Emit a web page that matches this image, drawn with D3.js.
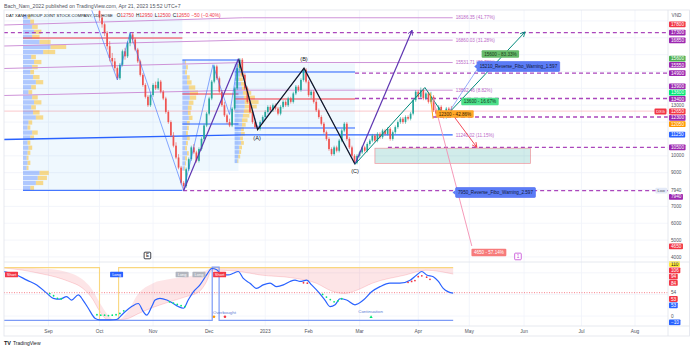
<!DOCTYPE html>
<html><head><meta charset="utf-8">
<script src="https://cdn.jsdelivr.net/npm/d3@7"></script>
<style>body{margin:0;background:#fff}svg{display:block;font-family:"Liberation Sans",Arial,sans-serif}</style>
</head><body><svg id="c" width="690" height="350"></svg>
<script>
// ---------------- DATA ----------------
const candleStart = 20; // bar index of first visible candle
const candles = [ // [open, high, low, close]
[18600,18900,18000,18200],[18200,18400,17600,17800],[17800,17900,17100,17300],[17300,17400,16300,16500],
[16500,16800,15600,15800],[15800,16100,15300,15600],[15600,15800,15000,15200],[15200,15300,14500,14600],
[14600,15500,14500,15400],[15400,16300,15300,16200],[16200,16400,15700,15900],[15900,16800,15800,16700],
[16700,17300,16500,17200],[17200,17300,16700,16900],[16900,17000,16200,16300],[16300,16400,15500,15600],
[15600,15700,14700,14800],[14800,14900,14100,14200],[14200,14300,13400,13500],[13500,13600,12900,13000],
[13000,13700,12900,13600],[13600,14300,13500,14200],[14200,14400,13900,14000],[14000,14600,13900,14400],
[14400,14500,13700,13800],[13800,13900,13300,13400],[13400,13500,12500,12600],[12600,12700,11900,12000],
[12000,12100,11100,11200],[11200,11400,10500,10600],[10600,10800,9800,9900],[9900,10100,9200,9300],
[9300,9400,8300,8400],[8400,8500,7940,8200],[8200,9300,8100,9200],[9200,9900,9100,9800],
[9800,10600,9700,10500],[10500,10700,10100,10200],[10200,10300,9600,9700],[9700,10500,9600,10400],
[10400,11100,10300,11000],[11000,11900,10900,11800],[11800,12600,11700,12500],[12500,13500,12400,13400],
[13400,14500,13300,14400],[14400,15400,14300,15300],[15300,15400,14500,14600],[14600,14700,13700,13800],
[13800,13900,12900,13000],[13000,13200,12300,12400],[12400,12500,11900,12000],[12000,12200,11700,11800],
[11800,12900,11700,12800],[12800,14100,12700,14000],[14000,15300,13900,15200],[15200,15800,15000,15700],
[15700,15800,14700,14800],[14800,14900,13900,14000],[14000,14100,13100,13200],[13200,13300,12500,12600],
[12600,12700,11900,12000],[12000,12100,11600,11700],[11700,11800,11500,11600],[11600,12100,11500,12000],
[12000,12400,11900,12300],[12300,12700,12200,12600],[12600,13000,12500,12900],[12900,13000,12600,12700],
[12700,13100,12600,13000],[13000,13100,12700,12800],[12800,12900,12400,12500],[12500,13000,12400,12900],
[12900,13300,12800,13200],[13200,13300,12900,13000],[13000,13500,12900,13400],[13400,13500,13100,13200],
[13200,13800,13100,13700],[13700,14200,13600,14100],[14100,14200,13800,13900],[13900,14600,13800,14500],
[14500,15200,14400,15100],[15100,15200,14300,14400],[14400,14500,13500,13600],[13600,13900,13400,13800],
[13800,13900,13100,13200],[13200,13300,12600,12700],[12700,12800,12200,12300],[12300,12400,11800,11900],
[11900,12000,11300,11400],[11400,11500,10900,11000],[11000,11100,10300,10400],[10400,10500,10000,10100],
[10100,10600,10000,10500],[10500,10600,10200,10300],[10300,11000,10200,10900],[10900,11600,10800,11500],
[11500,12000,11400,11900],[11900,12000,10900,11000],[11000,11100,10400,10500],[10500,10600,9900,10000],
[10000,10100,9500,9600],[9600,10100,9500,10000],[10000,10300,9900,10200],[10200,10600,10100,10500],
[10500,10600,10200,10300],[10300,10800,10200,10700],[10700,11000,10600,10900],[10900,11300,10800,11200],
[11200,11300,10800,10900],[10900,11400,10800,11300],[11300,11400,11000,11100],[11100,11600,11000,11500],
[11500,11600,11200,11300],[11300,11700,11200,11600],[11600,11700,10900,11000],[11000,11500,10900,11400],
[11400,11800,11300,11700],[11700,12100,11600,12000],[12000,12300,11900,12200],[12200,12300,11900,12000],
[12000,12400,11900,12300],[12300,12400,12100,12200],[12200,12600,12100,12500],[12500,13400,12400,13300],
[13300,13900,13200,13800],[13800,13900,13400,13500],[13500,14050,13400,13900],[13900,14000,13300,13400],
[13400,13800,13300,13700],[13700,13800,13100,13200],[13200,13800,13100,13500],[13500,13600,12600,12700],
[12700,12800,12300,12500],[12500,13000,12400,12900],[12900,13000,12300,12400],[12400,12500,12200,12300],
[12300,12900,12200,12800],[12800,12900,12600,12700],[12750,12950,12500,12650]
];

const monthLabels = ["Sep","Oct","Nov","Dec","2023","Feb","Mar","Apr","May","Jun","Jul","Aug"];
const monthBars   = [0,20,41,63,85,102,122,145,165,186.5,209,230];

// volume profiles
const profStart = [-10, 52.5, 73];
const profEnd   = [52.5, 74.5, 120.2];
const profHi    = [18400, 15700, 15480];
const profLo    = [7940, 9100, 9550];
const profPoc   = [16986, 13665, 13369];
const profVah   = [null, 15682, 14970];
const profVal   = [7950, 11886, 11649];
const prof1Up   = [5,8,10,12,10,18,30,22,9,12,10,8,11,14,9,6,10,12,9,11,14,6,5,10,8,5,6,5,4,5,4,18,16,14,8];
const prof1Down = [3,4,6,8,8,12,17,13,5,8,6,4,7,8,5,4,6,8,5,7,8,4,3,6,4,3,4,3,2,3,2,10,10,8,4];
const prof2Up   = [3,4,3,5,5,7,8,8,7,6,6,7,5,5,4,5,4,3,5,3,3,2];
const prof2Down = [1,2,2,3,5,7,9,7,5,4,3,4,3,2,2,3,2,2,2,2,1,1];
const prof3Up   = [3,5,6,5,7,8,9,10,11,11,10,9,8,8,7,7,6,7,5,5,4,3];
const prof3Down = [2,3,4,4,5,6,9,12,15,13,10,7,6,4,3,4,3,3,3,2,2,1];

// fib levels (sloped on the left, flat from breakBar)
const fibLevels = [18186.35, 16860.03, 15531.71, 13892.46, 11240.02];
const fibLeft   = [17758, 16512, 15178, 13577, 10967];
const fibText   = ["18186.35 (41.77%)","16860.03 (31.28%)","15531.71 (20.78%)","13892.46 (8.82%)","11240.02 (11.15%)"];
const fibBreakBar = 76, fibEndBar = 158.5;

// horizontal dashed levels
const dashPrices = [17300, 14900, 13400, 12300, 10500, 7940];
const dashStart  = [-17.5, 120.2, 120.2, 150.8, 133.1, 52.8];
const lastPrice = 12650;

// drawings  [bar, price]
const zigBlue   = [[15.5,19240],[27,14500],[32,17300],[53,7940],[64.5,15400],[71,12450],[74.5,15750],[82,11650],[100.2,15150],[120.2,9550]];
const zigABC    = [[74.5,15750],[82,11550],[100.2,15200],[120.2,9500]];
const abcText   = ["(A)","(B)","(C)"];
const abcPos    = [[81.8,11056],[100.2,15741],[120.2,9098]];
const purpleA   = [[53,7940],[74.5,15750]];
const purpleB   = [[120.2,9500],[142.6,17450]];
const tealZig   = [[120.2,9500],[147.6,14050],[155.5,12300],[186.9,17350]];
const redArrow  = [[159.4,12250],[168,10500]];
const pinkLine  = [[150.8,13430],[166,4650]];
const orangeLine= [[149.6,13750],[150.8,12200]];
const bluePtr   = [[156,12350],[169.5,15450]];
const zoneBars  = [128, 189];
const zonePrices= [10450, 9550];

// chart labels [bar, price] centres
const noteText  = ["15600 - 83.33%","15210_Reverse_Fibo_Warning_1.597","13600 - 16.67%","12300 - 42.86%","7950_Reverse_Fibo_Warning_2.597","4650 - 57.14%"];
const notePos   = [[177.2,16037],[184.3,15296],[169.2,13221],[159.4,12479],[175.3,7823],[172.7,4264]];
const noteKind  = ["tp","warn","tp2","entry","warn","sl"];
const markText  = ["E","1"];
const markPos   = [[38.8,4087],[184.1,4030]];

// right price axis
const mainTickValues = [13000,10000,9000,7940,7000,6000,5000,4000];
const mainBoxValues  = [17800,17300,16850,15600,15550,14900,13900,13600,13400,12650,12300,12050,11250,10500,7940,4650];
const mainBoxKinds   = ["high","level","level","tp","level","level","level","tp2","level","last","level","entry","fib","level","level","sl"];
const gridPrices = [4000,5000,6000,7000,8000,9000,10000,11000,12000,13000,14000,15000,16000,17000,18000];

// indicator
const oscPoints = [[-17.5,103],[-12.5,95],[-8.5,83],[-4.6,72],[-0.7,53],[1.9,41],[4.5,39],[7.1,45],[9.1,37],[11.7,49],[13.5,37],[15.6,18],[18.2,-5],[20.2,-9],[24.1,-9],[26.7,-8],[29.3,6],[32.6,22],[35.2,29],[37.2,10],[38.5,2],[40.5,22],[41.8,37],[43.7,41],[46.4,37],[48.9,29],[50.9,22],[52.9,18],[54.8,37],[56.8,56],[59.4,72],[62,95],[64,110],[66,107],[67.9,95],[70.5,95],[72.5,99],[74.4,103],[76.4,87],[79,76],[81.6,64],[84.2,72],[86.9,76],[89.5,68],[92.1,72],[94.7,80],[96.7,83],[98.6,80],[101.3,83],[103.2,72],[105.8,56],[108.4,37],[110.4,22],[112.4,26],[114.3,40],[116.9,37],[120.2,26],[123.5,37],[126.7,56],[130,68],[133.9,76],[137.8,76],[141.8,83],[144.4,95],[146.4,103],[148.3,95],[150.9,91],[152.9,80],[154.8,64],[156.8,56],[158.7,53]];
const bandPoints = [[-17.5,111,111],[-10,111,106],[-3,110,98],[3,107,90],[8,100,80],[13,86,66],[17,62,42],[20,32,12],[23,5,-8],[25.5,-8,-9],[27,-9,-9],[31,10,-6],[35,50,5],[41,76,20],[47,85,32],[54,91,45],[59,98,56],[62,106,80],[64,111,106],[67,111,106],[75,111,103],[83,111,95],[96,111,88],[105,111,76],[111,111,58],[116,111,52],[121,111,60],[127,111,76],[140,111,95],[148,111,106],[158.7,111,97]];
const yellowStep = [[-17.5,112],[20,112],[20,-10],[27.5,-10],[27.5,112],[158.7,112]];
const blueStep   = [[-17.5,-10],[64.2,-10],[64.2,113],[66.9,113],[66.9,-10],[158.7,-10]];
const greenDots = [[0.5,52],[2,47],[3.5,41],[5,40],[19,3],[20.5,2],[22,2],[23.5,1],[25,2],[26.5,3],[28,6],[29.5,12],[47.5,33],[49,30],[50.5,27],[52,24],[53.5,22],[107.5,50],[109,44],[110.5,38],[112,33],[113.5,35],[115,40]];
const redDots   = [[100,77],[101.5,76],[141,78],[142.4,80],[143.7,82],[145,91],[146.4,93],[148.3,90],[149.6,85]];
const sigText = ["Short","Long","Long","Long","Short"];
const sigPos  = [[-14.5,96],[26.7,96],[52.4,96],[59,96],[67.1,96]];
const sigKind = ["short","long","ghost","ghost","short"];
const overText = ["Overbought","Continuation"];
const overPos  = [[64.5,9.4],[126.3,10]];
const obDots   = [[64.9,-1.5],[69.2,-1.5]];
const contTri  = [[126.5,-1.5]];
const indTickValues = [54, 0];
const indBoxValues  = [110,106,94,84,53,53,-10];
const indBoxKinds   = ["yellow","red","red","red","red","blue","blue"];
const obLevel = 54;

// header texts
const headerText = "Bach_Nam_2022 published on TradingView.com, Apr 21, 2023 15:52 UTC+7";
const symbolName = "DAT XANH GROUP JOINT STOCK COMPANY, 1D, HOSE";
const ohlcKeys = ["O","H","L","C"];
const ohlcVals = ["12750","12950","12500","12650"];
const changeText = "−50 (−0.40%)";

// ---------------- STYLE ----------------
const C = {up:"#26a69a", down:"#ef5350", purple:"#9c27b0", dash:"#ab47bc", fib:"#ce93d8", fibText:"#ba68c8",
  blue:"#2962ff", red:"#f23645", grid:"#f0f3fa", border:"#e0e3eb", text:"#50535e"};
const kindFill = {high:"#f23645",level:"#9c27b0",tp:"#4caf50",tp2:"#00e676",last:"#f23645",entry:"#ff9800",fib:"#2962ff",sl:"#f23645",
  yellow:"#ffeb3b",red:"#f23645",blue:"#2962ff",warn:"#5b7cf6"};
const noteFill = {tp:"#66bb6a",tp2:"#4ee08a",entry:"#ffa726",warn:"#5b7cf6",sl:"#f77b7b"};
const noteInk  = {tp:"#1b3a1b",tp2:"#123a22",entry:"#3a2300",warn:"#131a3a",sl:"#ffffff"};

// ---------------- SCALES ----------------
const svg = d3.select("#c");
const L=4, R=668, mainTop=10, mainBot=262, indTop=262, indBot=326;
const x  = d3.scaleLinear().domain([-17.45, 242.94]).range([L, R]);
const y  = d3.scaleLinear().domain([3701, 18707]).range([262, 9]);
const yi = d3.scaleLinear().domain([-23, 125]).range([326, 262]);
const volPx = d3.scaleLinear().domain([0, 50]).range([0, 46]);

const defs = svg.append("defs");
defs.append("clipPath").attr("id","cm").append("rect").attr("x",L).attr("y",mainTop).attr("width",R-L).attr("height",mainBot-mainTop);
defs.append("clipPath").attr("id","ci").append("rect").attr("x",L).attr("y",indTop).attr("width",R-L).attr("height",indBot-indTop);
function marker(id,color){
  defs.append("marker").attr("id",id).attr("viewBox","0 0 10 10").attr("refX",9).attr("refY",5)
    .attr("markerWidth",6).attr("markerHeight",6).attr("markerUnits","userSpaceOnUse").attr("orient","auto")
    .append("path").attr("d","M1,1 L9,5 L1,9").attr("fill","none").attr("stroke",color).attr("stroke-width",1.4);
}
marker("aPurple","#673ab7"); marker("aTeal","#00897b"); marker("aRed","#f23645");

// ---------------- GRID ----------------
const grid = svg.append("g");
grid.selectAll(".vg").data(monthBars).join("line").attr("x1",d=>x(d)).attr("x2",d=>x(d))
  .attr("y1",mainTop).attr("y2",indBot).attr("stroke",C.grid).attr("stroke-width",0.8);
grid.selectAll(".hg").data(gridPrices).join("line").attr("x1",L).attr("x2",R).attr("y1",d=>y(d)).attr("y2",d=>y(d))
  .attr("stroke",C.grid).attr("stroke-width",0.8);
grid.selectAll(".ig").data([0,50,100]).join("line").attr("x1",L).attr("x2",R).attr("y1",d=>yi(d)).attr("y2",d=>yi(d))
  .attr("stroke",C.grid).attr("stroke-width",0.8);

// ---------------- MAIN PANE ----------------
const main = svg.append("g").attr("clip-path","url(#cm)");
const line = d3.line().x(d=>x(d[0])).y(d=>y(d[1]));

// volume profiles
const profUp = [prof1Up, prof2Up, prof3Up], profDown = [prof1Down, prof2Down, prof3Down];
profStart.forEach((s,k)=>{
  const g = main.append("g");
  g.append("rect").attr("x",x(s)).attr("y",y(profHi[k])).attr("width",x(profEnd[k])-x(s))
    .attr("height",y(profLo[k])-y(profHi[k])).attr("fill","rgba(33,150,243,0.07)");
  const n = profUp[k].length, bh = (y(profLo[k])-y(profHi[k]))/n;
  profUp[k].forEach((u,i)=>{
    const yy = y(profHi[k]) + i*bh;
    g.append("rect").attr("x",x(s)).attr("y",yy+0.4).attr("width",volPx(u)).attr("height",Math.max(0.5,bh-0.8)).attr("fill","rgba(41,98,255,0.32)");
    g.append("rect").attr("x",x(s)+volPx(u)).attr("y",yy+0.4).attr("width",volPx(profDown[k][i])).attr("height",Math.max(0.5,bh-0.8)).attr("fill","rgba(251,192,45,0.55)");
  });
  g.append("line").attr("x1",x(s)).attr("x2",x(profEnd[k])).attr("y1",y(profPoc[k])).attr("y2",y(profPoc[k])).attr("stroke",C.red).attr("stroke-width",1);
  [profVah[k], profVal[k]].forEach(v=>{ if(v!==null) g.append("line").attr("x1",x(s)).attr("x2",x(profEnd[k])).attr("y1",y(v)).attr("y2",y(v)).attr("stroke",C.blue).attr("stroke-width",1); });
});

// fib lines
fibLevels.forEach((lv,i)=>{
  const pts = [[-17.5,fibLeft[i]],[fibBreakBar,lv],[fibEndBar,lv]];
  main.append("path").attr("d",line(pts)).attr("fill","none")
    .attr("stroke", i===4 ? C.blue : C.fib).attr("stroke-width", i===4 ? 1.3 : 1);
  main.append("text").attr("x",x(fibEndBar)+3).attr("y",y(lv)).attr("dy","0.35em").attr("font-size",4.6)
    .attr("fill",C.fibText).text(fibText[i]);
});

// dashed levels
dashPrices.forEach((p,i)=>{
  main.append("line").attr("x1",x(dashStart[i])).attr("x2",R).attr("y1",y(p)).attr("y2",y(p))
    .attr("stroke",C.dash).attr("stroke-width",1.3).attr("stroke-dasharray","4,3");
});
// last price line
main.append("line").attr("x1",L).attr("x2",R).attr("y1",y(lastPrice)).attr("y2",y(lastPrice)).attr("stroke","rgba(242,54,69,0.35)").attr("stroke-width",0.8);

// zone
main.append("rect").attr("x",x(zoneBars[0])).attr("y",y(zonePrices[0])).attr("width",x(zoneBars[1])-x(zoneBars[0]))
  .attr("height",y(zonePrices[1])-y(zonePrices[0])).attr("fill","rgba(0,150,136,0.18)").attr("stroke","rgba(242,54,69,0.45)").attr("stroke-width",0.8);

// candles
const cg = main.append("g");
candles.forEach((c,i)=>{
  const b = candleStart+i, cx = x(b), col = c[3]>=c[0]?C.up:C.down;
  cg.append("line").attr("x1",cx).attr("x2",cx).attr("y1",y(c[1])).attr("y2",y(c[2])).attr("stroke",col).attr("stroke-width",0.6);
  cg.append("rect").attr("x",cx-0.85).attr("width",1.7).attr("y",Math.min(y(c[0]),y(c[3])))
    .attr("height",Math.max(0.6,Math.abs(y(c[0])-y(c[3])))).attr("fill",col);
});

// drawings
main.append("path").attr("d",line(zigBlue)).attr("fill","none").attr("stroke","rgba(41,98,255,0.55)").attr("stroke-width",1);
main.append("path").attr("d",line(zigABC)).attr("fill","none").attr("stroke","#131722").attr("stroke-width",1.2);
main.append("path").attr("d",line(purpleA)).attr("fill","none").attr("stroke","#5e35b1").attr("stroke-width",1.2);
main.append("path").attr("d",line(purpleB)).attr("fill","none").attr("stroke","#5e35b1").attr("stroke-width",1.2).attr("marker-end","url(#aPurple)");
main.append("path").attr("d",line(tealZig)).attr("fill","none").attr("stroke","#00897b").attr("stroke-width",1).attr("marker-end","url(#aTeal)");
main.append("path").attr("d",line(redArrow)).attr("fill","none").attr("stroke","#f23645").attr("stroke-width",0.9).attr("marker-end","url(#aRed)");
main.append("path").attr("d",line(pinkLine)).attr("fill","none").attr("stroke","#f48fb1").attr("stroke-width",0.9);
main.append("path").attr("d",line(orangeLine)).attr("fill","none").attr("stroke","#ff9800").attr("stroke-width",0.9);
main.append("path").attr("d",line(bluePtr)).attr("fill","none").attr("stroke","rgba(91,124,246,0.7)").attr("stroke-width",0.9);
abcText.forEach((t,i)=>{
  main.append("text").attr("x",x(abcPos[i][0])).attr("y",y(abcPos[i][1])).attr("dy","0.35em").attr("text-anchor","middle")
    .attr("font-size",5.6).attr("fill","#131722").text(t);
});

// note boxes
noteText.forEach((t,i)=>{
  const k = noteKind[i], cx = x(notePos[i][0]), cy = y(notePos[i][1]);
  const g = main.append("g");
  const tx = g.append("text").attr("x",cx).attr("y",cy).attr("dy","0.35em").attr("text-anchor","middle")
    .attr("font-size",4.6).attr("fill",noteInk[k]).text(t);
  const w = tx.node().getComputedTextLength()+5, h = k==="warn"?10:7.5;
  g.insert("rect","text").attr("x",cx-w/2).attr("y",cy-h/2).attr("width",w).attr("height",h).attr("rx",1)
    .attr("fill",noteFill[k]).attr("stroke",k==="warn"?"#3d5af1":"none").attr("stroke-width",0.5);
  if(k==="warn") g.insert("path","text").attr("d",`M${cx-w/2},${cy-2.5} L${cx-w/2-3},${cy} L${cx-w/2},${cy+2.5}Z`).attr("fill",noteFill[k]);
});
markText.forEach((t,i)=>{
  const cx = x(markPos[i][0]), cy = y(markPos[i][1]), col = i===0?"#131722":"#c445d6";
  main.append("rect").attr("x",cx-3.3).attr("y",cy-3.3).attr("width",6.6).attr("height",6.6).attr("rx",0.8)
    .attr("fill","#fff").attr("stroke",col).attr("stroke-width",0.8);
  main.append("text").attr("x",cx).attr("y",cy).attr("dy","0.35em").attr("text-anchor","middle").attr("font-size",4.6).attr("fill",col).text(t);
});

// ---------------- INDICATOR ----------------
const ind = svg.append("g").attr("clip-path","url(#ci)");
const iline = d3.line().x(d=>x(d[0])).y(d=>yi(d[1]));
ind.append("line").attr("x1",L).attr("x2",R).attr("y1",yi(obLevel)).attr("y2",yi(obLevel))
  .attr("stroke","rgba(242,54,69,0.7)").attr("stroke-width",0.9).attr("stroke-dasharray","1,1.5");
const band = d3.area().x(d=>x(d[0])).y0(d=>yi(d[2])).y1(d=>yi(d[1])).curve(d3.curveMonotoneX);
ind.append("path").attr("d",band(bandPoints)).attr("fill","rgba(242,54,69,0.13)");
ind.append("path").attr("d",d3.line().x(d=>x(d[0])).y(d=>yi(d[2])).curve(d3.curveMonotoneX)(bandPoints)).attr("fill","none").attr("stroke","rgba(242,54,69,0.25)").attr("stroke-width",0.7);
ind.append("path").attr("d",iline(yellowStep)).attr("fill","none").attr("stroke","#f9d77e").attr("stroke-width",1.1);
ind.append("path").attr("d",iline(blueStep)).attr("fill","none").attr("stroke","#7d9bf6").attr("stroke-width",1.2);
ind.append("path").attr("d",d3.line().x(d=>x(d[0])).y(d=>yi(d[1])).curve(d3.curveMonotoneX)(oscPoints))
  .attr("fill","none").attr("stroke","#2962ff").attr("stroke-width",1.2);
ind.selectAll(".gd").data(greenDots).join("circle").attr("cx",d=>x(d[0])).attr("cy",d=>yi(d[1])).attr("r",0.9).attr("fill","#00e676");
ind.selectAll(".rd").data(redDots).join("circle").attr("cx",d=>x(d[0])).attr("cy",d=>yi(d[1])).attr("r",0.9).attr("fill","#f23645");
ind.selectAll(".od").data(obDots).join("circle").attr("cx",d=>x(d[0])).attr("cy",d=>yi(d[1])).attr("r",1.3).attr("fill",(d,i)=>i===0?"#ff9800":"#f23645");
ind.selectAll(".ct").data(contTri).join("path").attr("d",d=>`M${x(d[0])-1.6},${yi(d[1])+1.4} L${x(d[0])+1.6},${yi(d[1])+1.4} L${x(d[0])},${yi(d[1])-1.4}Z`).attr("fill","#00e676");
overText.forEach((t,i)=>{
  ind.append("text").attr("x",x(overPos[i][0])).attr("y",yi(overPos[i][1])).attr("dy","0.35em").attr("text-anchor",i===0?"start":"middle")
    .attr("font-size",4.4).attr("fill","#5b7bd5").text(t);
});
const sigFill = {short:"#f23645", long:"#2962ff", ghost:"#b2b5be"};
sigText.forEach((t,i)=>{
  const cx = x(sigPos[i][0]), cy = yi(sigPos[i][1]);
  ind.append("rect").attr("x",cx-6.5).attr("y",cy-2.7).attr("width",13).attr("height",5.4).attr("rx",0.6).attr("fill",sigFill[sigKind[i]]);
  ind.append("text").attr("x",cx).attr("y",cy).attr("dy","0.35em").attr("text-anchor","middle").attr("font-size",4).attr("fill","#fff").text(t);
});

// ---------------- AXES ----------------
function placeLabels(items, gap){
  items.sort((a,b)=> (a.y-b.y) || ((b.fixed?1:0)-(a.fixed?1:0)));
  for(let k=0;k<80;k++){
    for(let i=1;i<items.length;i++){
      const a=items[i-1], b=items[i], ov = gap-(b.y-a.y);
      if(ov>0.01){
        if(a.fixed && b.fixed) continue;
        if(a.fixed) b.y += ov; else if(b.fixed) a.y -= ov; else {a.y -= ov/2; b.y += ov/2;}
      }
    }
  }
}
const ax = svg.append("g");
function drawAxis(tickVals, boxVals, boxKinds, scale){
  const items = tickVals.map(v=>({y:scale(v), t:String(v), fixed:true}))
    .concat(boxVals.map((v,i)=>({y:scale(v), t:String(v).replace("-","−"), fixed:false, k:boxKinds[i]})));
  placeLabels(items, 6.3);
  items.forEach(d=>{
    const tx = ax.append("text").attr("x",671).attr("y",d.y).attr("dy","0.35em").attr("font-size",4.7)
      .attr("fill", d.fixed ? C.text : (d.k==="yellow" ? "#131722" : "#fff")).text(d.t);
    if(!d.fixed){
      const w = tx.node().getComputedTextLength()+3.5;
      ax.insert("rect","text").attr("x",669).attr("y",d.y-2.9).attr("width",w).attr("height",5.8).attr("rx",0.8).attr("fill",kindFill[d.k]);
    }
  });
  return items;
}
const mItems = drawAxis(mainTickValues, mainBoxValues, mainBoxKinds, y);
drawAxis(indTickValues, indBoxValues, indBoxKinds, yi);
ax.append("text").attr("x",671.5).attr("y",15).attr("dy","0.35em").attr("font-size",4.7).attr("fill",C.text).text("VND");
// DXG and Low tags
const lastItem = mItems.find(d=>!d.fixed && d.k==="last");
ax.append("rect").attr("x",654.5).attr("y",lastItem.y-2.9).attr("width",12).attr("height",5.8).attr("rx",0.8).attr("fill",C.red);
ax.append("text").attr("x",660.5).attr("y",lastItem.y).attr("dy","0.35em").attr("text-anchor","middle").attr("font-size",4).attr("fill","#fff").text("DXG");
const lowItem = mItems.find(d=>d.fixed && d.t==="7940");
ax.append("rect").attr("x",655.5).attr("y",lowItem.y-2.9).attr("width",11.5).attr("height",5.8).attr("rx",0.8).attr("fill","#e3e9f7");
ax.append("text").attr("x",661.2).attr("y",lowItem.y).attr("dy","0.35em").attr("text-anchor","middle").attr("font-size",4).attr("fill",C.text).text("Low");

// time axis
svg.append("g").selectAll("text").data(monthLabels).join("text").attr("x",(d,i)=>x(monthBars[i])).attr("y",331)
  .attr("dy","0.35em").attr("text-anchor","middle").attr("font-size",4.8).attr("fill",C.text).text(d=>d);

// frame
const fr = svg.append("g").attr("fill","none").attr("stroke",C.border).attr("stroke-width",0.8);
fr.append("rect").attr("x",L).attr("y",mainTop).attr("width",690-L-0.5).attr("height",336-mainTop);
fr.append("line").attr("x1",R).attr("x2",R).attr("y1",mainTop).attr("y2",336);
fr.append("line").attr("x1",L).attr("x2",690).attr("y1",indTop).attr("y2",indTop);
fr.append("line").attr("x1",L).attr("x2",690).attr("y1",indBot).attr("y2",indBot);

// header
svg.append("text").attr("x",4).attr("y",6).attr("dy","0.35em").attr("font-size",5.2).attr("fill",C.text).text(headerText);
const nameT = svg.append("text").attr("x",6).attr("y",15.5).attr("dy","0.35em").attr("font-size",4.1).attr("fill","#131722").text(symbolName);
const nameW = nameT.node().getComputedTextLength();
const ohlcT = svg.append("text").attr("x",6+nameW+4).attr("y",15.5).attr("dy","0.35em").attr("font-size",4.8).attr("fill","#131722");
ohlcKeys.forEach((k,i)=>{ ohlcT.append("tspan").attr("dx",i===0?0:2).text(k); ohlcT.append("tspan").attr("fill",C.red).text(ohlcVals[i]); });
ohlcT.append("tspan").attr("dx",2).attr("fill",C.red).text(changeText);
// logo
svg.append("text").attr("x",4).attr("y",343).attr("dy","0.35em").attr("font-size",5.5).attr("font-weight","bold").attr("fill","#131722").text("TV");
svg.append("text").attr("x",13).attr("y",343).attr("dy","0.35em").attr("font-size",5).attr("fill","#131722").text("TradingView");
</script></body></html>
